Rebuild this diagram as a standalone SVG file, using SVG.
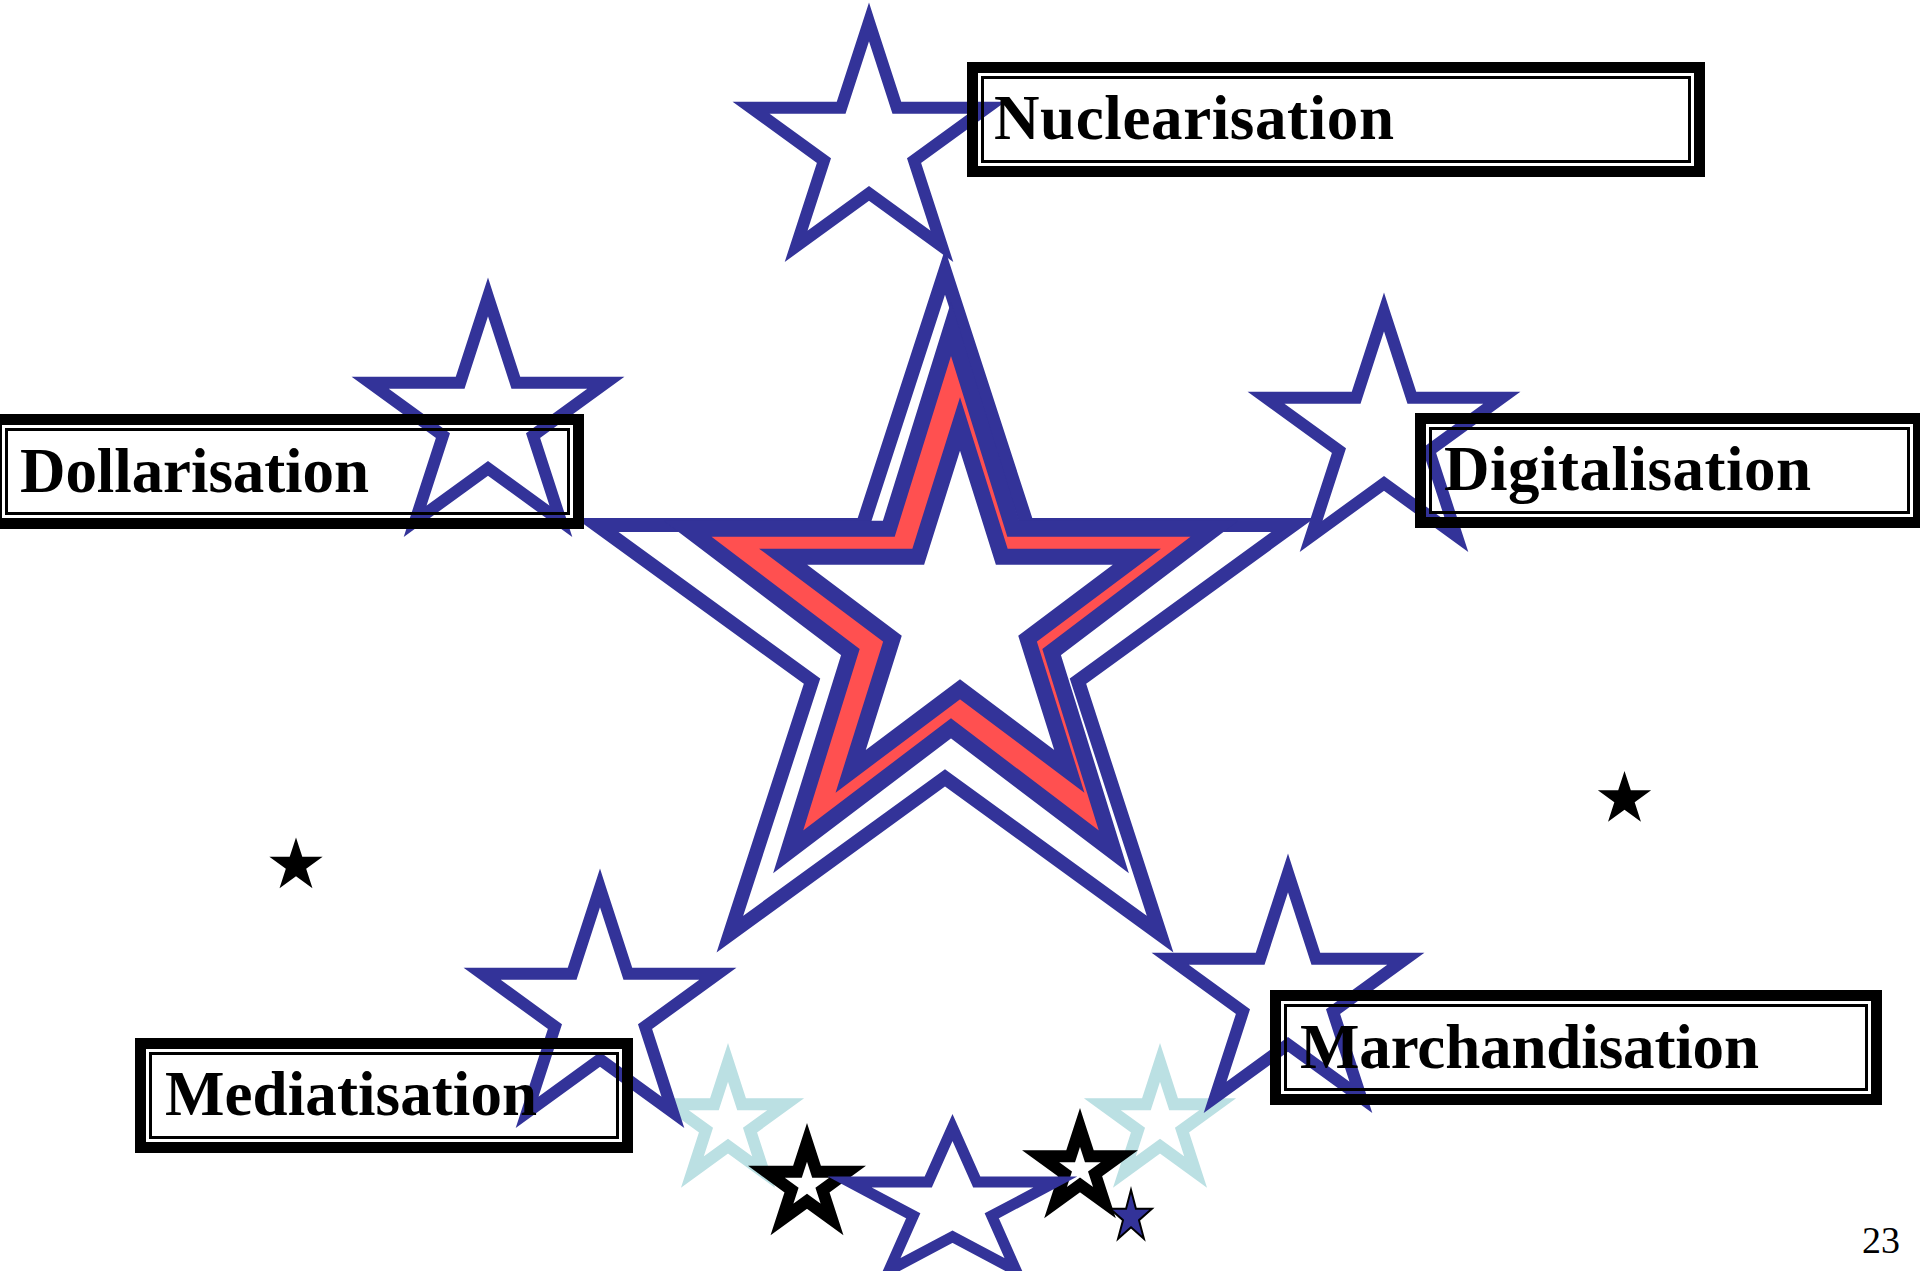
<svg xmlns="http://www.w3.org/2000/svg" xmlns:xlink="http://www.w3.org/1999/xlink" width="1920" height="1271" viewBox="0 0 1920 1271">
<defs>
<path id="star" d="M0,-100 L22.45,-30.9 L95.11,-30.9 L36.33,11.8 L58.78,80.9 L0,38.2 L-58.78,80.9 L-36.33,11.8 L-95.11,-30.9 L-22.45,-30.9 Z" vector-effect="non-scaling-stroke"/>
</defs>
<style>
.bl{fill:none;stroke:#333399;stroke-linejoin:miter;stroke-miterlimit:10}
.sat{fill:none;stroke:#333399;stroke-width:12;stroke-linejoin:miter;stroke-miterlimit:10}
.lb{fill:none;stroke:#BBE0E3;stroke-width:12;stroke-linejoin:miter;stroke-miterlimit:10}
.bk{fill:#fff;stroke:#000;stroke-width:12;stroke-linejoin:miter;stroke-miterlimit:10}
.dot{fill:#000;stroke:none}
.outer{fill:none;stroke:#000;stroke-width:11}
.inner{fill:none;stroke:#000;stroke-width:3}
.lbl{font-family:"Liberation Serif","Times New Roman",serif;font-weight:bold;font-size:63px;fill:#000}
.pg{font-family:"Liberation Serif","Times New Roman",serif;font-size:38px;fill:#000}
</style>
<rect x="0" y="0" width="1920" height="1271" fill="#fff"/>

<g id="central-star">
<use href="#star" transform="translate(945,638) scale(3.66)" fill="#fff" stroke="#333399" stroke-width="14" stroke-linejoin="miter" stroke-miterlimit="10"/>
<use href="#star" transform="translate(951,618) scale(2.77,2.89)" fill="#FF5050" stroke="#333399" stroke-width="16" stroke-linejoin="miter" stroke-miterlimit="10"/>
<use href="#star" transform="translate(960,616) scale(1.86,1.92)" fill="#fff" stroke="#333399" stroke-width="16" stroke-linejoin="miter" stroke-miterlimit="10"/>
</g>

<g id="decor-stars">
<use href="#star" class="dot" transform="translate(296,865.5) scale(0.28)"/>
<use href="#star" class="dot" transform="translate(1624.5,799) scale(0.28)"/>
<use href="#star" class="lb" transform="translate(728,1123) scale(0.606)"/>
<use href="#star" class="lb" transform="translate(1160,1123) scale(0.606)"/>
<use href="#star" class="bk" transform="translate(807,1185) scale(0.426)"/>
<use href="#star" class="bk" transform="translate(1080,1169) scale(0.415)"/>
<use href="#star" class="bl" stroke-width="11" transform="translate(952.5,1206.5) scale(1.08,0.79)"/>
<use href="#star" transform="translate(1131,1217) scale(0.22,0.27)" fill="#333399" stroke="#000" stroke-width="2"/>
</g>

<g id="connectors"></g>

<g id="node-nuclearisation">
<use href="#star" class="sat" transform="translate(869,146) scale(1.24)"/>
<rect class="outer" x="972.5" y="67.5" width="727" height="104"/>
<rect class="inner" x="982.5" y="77.5" width="707" height="84"/>
<text class="lbl" x="994" y="139" textLength="400">Nuclearisation</text>
</g>

<g id="node-dollarisation">
<use href="#star" class="sat" transform="translate(488,421) scale(1.24)"/>
<rect class="outer" x="-3.5" y="419.5" width="582" height="104"/>
<rect class="inner" x="6.5" y="429.5" width="562" height="84"/>
<text class="lbl" x="20" y="492" textLength="349">Dollarisation</text>
</g>

<g id="node-digitalisation">
<use href="#star" class="sat" transform="translate(1384,436) scale(1.24)"/>
<rect class="outer" x="1420.5" y="418.5" width="498" height="104"/>
<rect class="inner" x="1430.5" y="428.5" width="478" height="84"/>
<text class="lbl" x="1444" y="490" textLength="367">Digitalisation</text>
</g>

<g id="node-mediatisation">
<use href="#star" class="sat" transform="translate(600,1012) scale(1.24)"/>
<rect class="outer" x="140.5" y="1043.5" width="487" height="104"/>
<rect class="inner" x="150.5" y="1053.5" width="467" height="84"/>
<text class="lbl" x="165" y="1115" textLength="372">Mediatisation</text>
</g>

<g id="node-marchandisation">
<use href="#star" class="sat" transform="translate(1288,997) scale(1.24)"/>
<rect class="outer" x="1275.5" y="995.5" width="601" height="104"/>
<rect class="inner" x="1285.5" y="1005.5" width="581" height="84"/>
<text class="lbl" x="1300" y="1068" textLength="459">Marchandisation</text>
</g>

<text class="pg" x="1862" y="1253">23</text>
</svg>
